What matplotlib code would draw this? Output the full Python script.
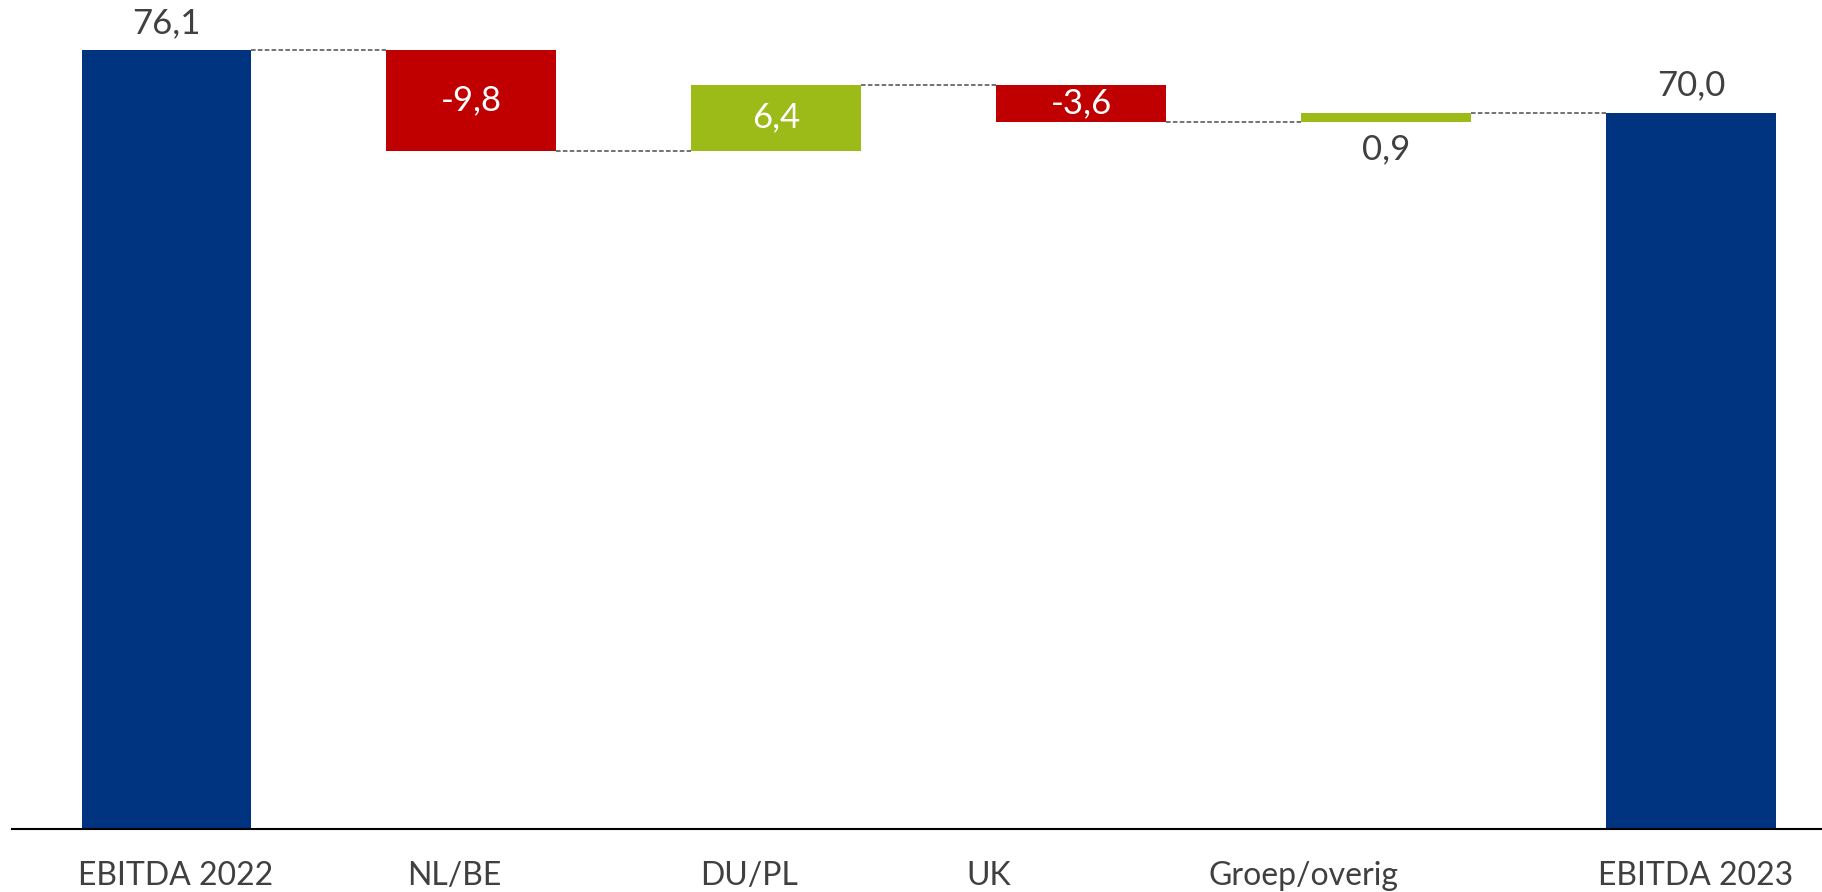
import numpy as np
import matplotlib.pyplot as plt

# data
categorieen = ['EBITDA 2022', 'NL/BE', 'DU/PL', 'UK', 'Groep/overig', 'EBITDA 2023']
waarden = [76.1, -9.8, 6.4, -3.6, 0.9, 70.0]
is_totaal = [True, False, False, False, False, True]

BLAUW = '#003380'
ROOD = '#C00000'
GROEN = '#9CBA18'
TEKST = '#404040'

plt.rcParams['font.family'] = ['Lato', 'DejaVu Sans']

fig = plt.figure(figsize=(18.22, 8.92), dpi=100)
ax = fig.add_axes([0.0064, 0.0703, 0.9936, 0.9297])

x = np.arange(len(categorieen))
breedte = 0.556

# running totals
onder = []
boven = []
lopend = 0.0
for v, tot in zip(waarden, is_totaal):
    if tot:
        onder.append(0.0)
        boven.append(v)
        lopend = v
    else:
        nieuw = lopend + v
        onder.append(min(lopend, nieuw))
        boven.append(max(lopend, nieuw))
        lopend = nieuw

kleuren = []
for v, tot in zip(waarden, is_totaal):
    if tot:
        kleuren.append(BLAUW)
    elif v < 0:
        kleuren.append(ROOD)
    else:
        kleuren.append(GROEN)

hoogtes = np.array(boven) - np.array(onder)
ax.bar(x, hoogtes, bottom=onder, width=breedte, color=kleuren, zorder=2)

# connector lines
niveau = []
lopend = 0.0
for v, tot in zip(waarden, is_totaal):
    lopend = v if tot else lopend + v
    niveau.append(lopend)
for i in range(len(x) - 1):
    ax.plot([x[i] + breedte / 2, x[i + 1] - breedte / 2], [niveau[i], niveau[i]],
            color='#4d4d4d', lw=1.1, ls=(0, (3, 1.5)), zorder=1)

# value labels
for i, (v, tot) in enumerate(zip(waarden, is_totaal)):
    tekst = f'{v:.1f}'.replace('.', ',')
    if tot:
        ax.annotate(tekst, (x[i], boven[i]), xytext=(0, 8), textcoords='offset points',
                    ha='center', va='bottom', fontsize=25, color=TEKST)
    elif hoogtes[i] < 3:
        ax.annotate(tekst, (x[i], onder[i]), xytext=(0, -8), textcoords='offset points',
                    ha='center', va='top', fontsize=25, color=TEKST)
    else:
        ax.text(x[i], (onder[i] + boven[i]) / 2, tekst, ha='center', va='center',
                fontsize=25, color='white')

ax.set_xlim(-0.507, 5.429)
ax.set_ylim(0, 81.0)

for s in ['top', 'right', 'left']:
    ax.spines[s].set_visible(False)
ax.spines['bottom'].set_color('#000000')
ax.spines['bottom'].set_linewidth(1.5)
ax.set_yticks([])
ax.set_xticks(x)
ax.set_xticklabels([])
ax.tick_params(axis='x', length=0)

# category labels (placed slightly off-centre as in the original layout)
label_verschuiving = [0.03, -0.055, -0.088, -0.303, -0.27, 0.013]
for i, naam in enumerate(categorieen):
    ax.annotate(naam, (x[i] + label_verschuiving[i], 0), xytext=(0, -23),
                textcoords='offset points', ha='center', va='top',
                fontsize=23, color=TEKST, annotation_clip=False)

fig.savefig('out.png', dpi=100, facecolor='white')
